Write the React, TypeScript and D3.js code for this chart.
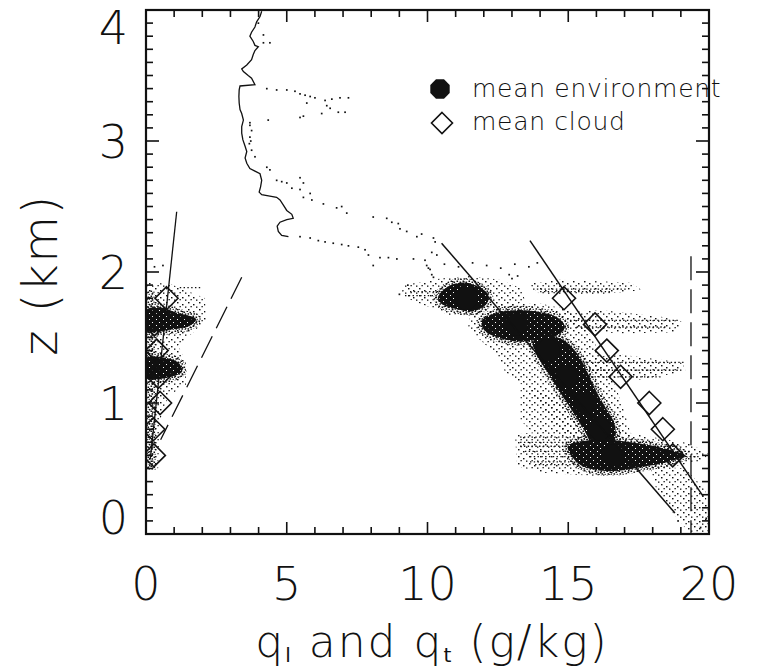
import React from "react";
import * as d3 from "d3";

// ---------- data (q in g/kg, z in km) ----------
const X_MAJOR = [0, 5, 10, 15, 20];
const Y_MAJOR = [0, 1, 2, 3, 4];

const LEVEL_Z = [1.8, 1.6, 1.4, 1.2, 1.0, 0.8, 0.6];
const ENV_Q = [11.39, 13.17, 14.28, 14.94, 15.6, 16.13, 16.59];
const CLOUD_QT = [14.85, 15.95, 16.37, 16.86, 17.88, 18.36, 18.71];
const CLOUD_QL = [0.73, 0.3, 0.38, 0.44, 0.5, 0.26, 0.28];

// fitted / reference lines
const LIQ_LINE: [number, number][] = [[1.09, 2.46], [0.15, 0.57]];
const ADIABAT_LINE: [number, number][] = [[3.4, 1.96], [0.52, 0.72]];
const ENV_LINE: [number, number][] = [[10.5, 2.22], [18.79, 0.16]];
const CLOUD_LINE: [number, number][] = [[13.64, 2.24], [19.8, 0.285]];
const SURFACE_LINE: [number, number][] = [[19.36, 2.12], [19.36, 0]];

// sounding profile
const PROFILE: [number, number][] = [
  [4.11, 3.99], [4.05, 3.95], [3.93, 3.91], [3.87, 3.87], [3.75, 3.83], [3.69, 3.8], [3.81, 3.76],
  [3.87, 3.73], [3.99, 3.72], [3.87, 3.69], [3.81, 3.66], [3.75, 3.62], [3.58, 3.58], [3.4, 3.55],
  [3.46, 3.53], [3.63, 3.5], [3.75, 3.48], [3.87, 3.43], [3.34, 3.42], [3.31, 3.39], [3.3, 3.34],
  [3.31, 3.29], [3.34, 3.24], [3.4, 3.21], [3.46, 3.16], [3.4, 3.11], [3.4, 3.06], [3.44, 3.01],
  [3.52, 2.96], [3.58, 2.92], [3.52, 2.87], [3.58, 2.83], [3.69, 2.79], [3.87, 2.77], [4.05, 2.75],
  [4.11, 2.7], [4.07, 2.65], [4.02, 2.61], [4.11, 2.59], [4.4, 2.58], [4.64, 2.57], [4.76, 2.55],
  [4.88, 2.51], [5.0, 2.47], [5.18, 2.44], [5.23, 2.41], [5.0, 2.4], [4.76, 2.38], [4.66, 2.35],
  [4.7, 2.31], [4.82, 2.28], [5.06, 2.27],
];
const PROFILE_DOTS: [number, number][] = [
  // lower trail
  [5.47, 2.27], [5.83, 2.26], [6.12, 2.24], [6.36, 2.23], [6.65, 2.22], [6.95, 2.21], [7.19, 2.2],
  [7.54, 2.19], [7.78, 2.17], [7.9, 2.13], [8.07, 2.05], [8.31, 2.11], [8.61, 2.11], [8.91, 2.1],
  [9.5, 2.1], [9.91, 2.09], [9.97, 2.05], [10.03, 2.03], [10.09, 2.02], [10.15, 1.98], [10.21, 1.96],
  // upper trail
  [4.29, 2.8], [4.4, 2.78], [4.64, 2.7], [4.82, 2.69], [5.0, 2.68], [5.18, 2.64], [5.47, 2.63],
  [5.59, 2.57], [5.89, 2.55], [6.3, 2.52], [6.77, 2.49], [6.95, 2.5], [7.13, 2.45], [8.07, 2.42],
  [8.55, 2.41], [8.73, 2.38], [8.96, 2.37], [9.02, 2.33], [9.26, 2.31], [9.62, 2.27], [9.79, 2.29],
  [10.21, 2.26], [10.27, 2.23], [10.15, 2.15], [10.33, 2.13], [5.47, 2.72], [5.59, 2.68], [5.83, 2.6],
  // branch near 3.3 km
  [4.29, 3.4], [4.64, 3.39], [5.0, 3.39], [5.29, 3.38], [5.47, 3.36], [5.65, 3.35], [5.83, 3.34],
  [6.0, 3.33], [6.36, 3.31], [6.6, 3.32], [6.89, 3.33], [7.19, 3.33], [6.42, 3.27], [6.54, 3.25],
  [6.83, 3.22], [7.07, 3.22], [5.59, 3.19], [5.47, 3.18], [6.24, 3.21], [4.34, 3.16], [5.71, 3.29],
  // second strand
  [3.69, 3.14], [3.75, 3.08], [3.69, 3.03], [3.67, 2.98], [3.75, 2.93], [3.87, 2.88], [3.99, 3.9],
  [4.17, 3.81], [4.17, 3.75], [4.4, 3.75], [3.69, 3.12], [3.72, 3.0],
  // sparse dots near 2 km
  [10.6, 2.06], [11.1, 2.04], [11.6, 2.07], [12.1, 2.05], [12.6, 2.03], [13.1, 2.06], [13.6, 2.04],
  [13.9, 2.07], [12.9, 1.98], [13.0, 1.95], [13.2, 1.97], [9.3, 1.9], [9.0, 1.83], [0.3, 2.04],
  [0.6, 2.05], [0.0, 2.02], [18.9, 0.1], [19.7, 0.05], [19.9, 0.12], [19.5, 0.2],
];

// dense cores
const DENSE_1: [number, number][] = [
  [10.37, 1.8], [10.66, 1.88], [11.23, 1.92], [11.79, 1.89], [12.15, 1.83], [12.11, 1.76],
  [11.62, 1.7], [10.98, 1.72], [10.55, 1.75],
];
const DENSE_2: [number, number][] = [
  [11.94, 1.63], [12.5, 1.69], [13.29, 1.71], [14.07, 1.69], [14.63, 1.65], [14.88, 1.58],
  [14.56, 1.51], [13.93, 1.48], [13.21, 1.47], [12.5, 1.5], [12.0, 1.56],
];
const DENSE_3: [number, number][] = [
  [13.75, 1.47], [14.63, 1.5], [15.28, 1.39], [15.67, 1.24], [16.02, 1.08], [16.34, 0.96],
  [16.63, 0.85], [16.66, 0.73], [16.34, 0.67], [15.84, 0.69], [15.6, 0.78], [15.2, 0.92],
  [14.71, 1.08], [14.28, 1.23], [13.93, 1.35],
];
const DENSE_4: [number, number][] = [
  [14.99, 0.67], [16.13, 0.72], [17.19, 0.7], [18.26, 0.66], [19.11, 0.6], [18.54, 0.55],
  [17.55, 0.51], [16.66, 0.48], [15.95, 0.49], [15.35, 0.54],
];
const DENSE_5: [number, number][] = [
  [0, 1.71], [0.5, 1.73], [1.07, 1.69], [1.78, 1.64], [1.56, 1.59], [0.85, 1.56], [0, 1.55],
];
const DENSE_6: [number, number][] = [
  [0, 1.34], [0.57, 1.35], [1.14, 1.31], [1.28, 1.24], [0.71, 1.19], [0, 1.19],
];
const STRIP_LEFT: [number, number][] = [[0, 1.86], [0.3, 1.86], [0.35, 0.49], [0, 0.49]];

// sparse halos
const HALO_1: [number, number][] = [
  [9.2, 1.9], [10.44, 1.95], [11.51, 1.97], [12.58, 1.94], [13.29, 1.88], [13.46, 1.79],
  [12.75, 1.69], [11.87, 1.66], [10.8, 1.67], [9.73, 1.76], [9.02, 1.82],
];
const HALO_2: [number, number][] = [
  [11.51, 1.67], [12.4, 1.75], [14.0, 1.76], [15.06, 1.71], [15.49, 1.62], [15.84, 1.5],
  [16.23, 1.33], [16.73, 1.1], [17.09, 0.87], [17.26, 0.72], [16.55, 0.66], [15.24, 0.7],
  [14.42, 0.85], [14.0, 1.01], [13.36, 1.14], [12.75, 1.24], [12.47, 1.37], [11.87, 1.48], [11.44, 1.57],
];
const HALO_3: [number, number][] = [
  [14.71, 1.69], [16.13, 1.71], [18.26, 1.66], [19.04, 1.62], [18.83, 1.54], [16.84, 1.53], [15.24, 1.56],
];
const HALO_4: [number, number][] = [
  [15.24, 1.34], [16.84, 1.37], [19.04, 1.31], [19.18, 1.24], [17.55, 1.18], [15.77, 1.2],
];
const HALO_5: [number, number][] = [
  [13.57, 1.91], [14.71, 1.94], [17.19, 1.92], [17.62, 1.86], [16.13, 1.83], [14.0, 1.83],
];
const HALO_6: [number, number][] = [
  [13.11, 0.76], [14.71, 0.8], [16.84, 0.78], [19.33, 0.69], [20, 0.61], [19.68, 0.55],
  [17.9, 0.49], [16.13, 0.44], [14.0, 0.47], [13.18, 0.52],
];
const HALO_7: [number, number][] = [
  [17.9, 0.52], [19.15, 0.5], [19.86, 0.34], [20, 0.11], [20, 0], [19.33, 0], [18.69, 0.17], [18.12, 0.35],
];
const HALO_8: [number, number][] = [
  [13.3, 1.14], [14.4, 1.06], [15.6, 0.87], [15.3, 0.78], [13.7, 0.78], [13.3, 0.87],
];
const HALO_9: [number, number][] = [
  [0, 1.92], [0.85, 1.91], [2.1, 1.8], [2.13, 1.63], [1.63, 1.53], [1.14, 1.44], [1.42, 1.31],
  [1.42, 1.14], [0.78, 1.05], [0.5, 0.87], [0.43, 0.49], [0, 0.49],
];

// horizontal streaks of points (flight legs)
const STREAK_Z = [0.74, 0.7, 0.67, 0.63, 0.59, 0.55, 0.53, 1.63, 1.58, 1.87, 1.85, 1.31, 1.25, 1.2, 1.85, 1.82, 1.61, 1.24, 1.88];
const STREAK_Q0 = [13.29, 13.29, 13.29, 13.46, 13.64, 13.64, 13.82, 15.06, 15.3, 13.75, 14.0, 15.4, 15.6, 15.8, 9.38, 9.2, 0, 0, 1.2];
const STREAK_Q1 = [16.23, 17.9, 18.97, 19.33, 19.68, 18.61, 17.55, 18.97, 18.5, 17.09, 16.5, 19.1, 18.9, 18.3, 10.7, 10.5, 1.92, 1.31, 2.0];

export default function App() {
  const W = 759;
  const H = 670;
  const x = d3.scaleLinear().domain([0, 20]).range([146, 709]);
  const y = d3.scaleLinear().domain([0, 4]).range([534, 10]);
  const line = d3.line<[number, number]>().x((d) => x(d[0])).y((d) => y(d[1]));
  const blob = d3
    .line<[number, number]>()
    .x((d) => x(d[0]))
    .y((d) => y(d[1]))
    .curve(d3.curveCatmullRomClosed.alpha(0.5));
  const poly = d3
    .line<[number, number]>()
    .x((d) => x(d[0]))
    .y((d) => y(d[1]))
    .curve(d3.curveLinearClosed);

  const font = "'DejaVu Sans', sans-serif";
  const xMinor = d3.range(0, 21, 1);
  const yMinor = d3.range(0, 41, 1).map((v) => v / 10);

  const octagon = (cx: number, cy: number, r: number) =>
    d3.range(8).map((i) => {
      const a = (Math.PI / 8) + (i * Math.PI) / 4;
      return `${cx + r * Math.cos(a)},${cy + r * Math.sin(a)}`;
    }).join(" ");
  const diamond = (cx: number, cy: number, r: number) =>
    `M${cx},${cy - r}L${cx + r},${cy}L${cx},${cy + r}L${cx - r},${cy}Z`;

  const dense = [DENSE_1, DENSE_2, DENSE_3, DENSE_4, DENSE_5, DENSE_6];
  const halos = [HALO_1, HALO_2, HALO_3, HALO_4, HALO_5, HALO_6, HALO_7, HALO_8, HALO_9];

  return (
    <div style={{ position: "absolute", left: 0, top: 0 }}>
      <svg width={W} height={H} style={{ display: "block", background: "#fff" }}>
        <defs>
          <pattern id="halo" width="11" height="7" patternUnits="userSpaceOnUse">
            <rect x="1" y="1" width="1.5" height="1.4" fill="#111" />
            <rect x="6" y="3" width="1.5" height="1.4" fill="#111" />
            <rect x="9" y="5.5" width="1.4" height="1.3" fill="#111" />
            <rect x="3.5" y="5" width="1.3" height="1.3" fill="#111" />
          </pattern>
          <pattern id="mid" width="6" height="5" patternUnits="userSpaceOnUse">
            <rect x="0.5" y="0.5" width="1.6" height="1.5" fill="#111" />
            <rect x="3.5" y="1.5" width="1.6" height="1.5" fill="#111" />
            <rect x="1.5" y="3.2" width="1.6" height="1.5" fill="#111" />
            <rect x="4.6" y="3.8" width="1.2" height="1.1" fill="#111" />
          </pattern>
          <pattern id="core" width="7" height="6" patternUnits="userSpaceOnUse">
            <rect x="0" y="0" width="7" height="6" fill="#111" />
            <rect x="2" y="1" width="1" height="1" fill="#fff" />
            <rect x="5" y="4" width="1" height="1" fill="#fff" />
          </pattern>
          <clipPath id="plotclip">
            <rect x={x(0)} y={y(4)} width={x(20) - x(0)} height={y(0) - y(4)} />
          </clipPath>
        </defs>

        <g clipPath="url(#plotclip)">
          {halos.map((h, i) => (
            <path key={"h" + i} d={poly(h) || ""} fill="url(#halo)" stroke="none" />
          ))}
          {STREAK_Z.map((z, i) => (
            <line
              key={"s" + i}
              x1={x(STREAK_Q0[i])}
              x2={x(STREAK_Q1[i])}
              y1={y(z)}
              y2={y(z)}
              stroke="#111"
              strokeWidth={1.3}
              strokeDasharray="1.4 2.4"
            />
          ))}
          <path d={poly(STRIP_LEFT) || ""} fill="url(#mid)" />
          {dense.map((p, i) => (
            <path key={"d" + i} d={blob(p) || ""} fill="url(#core)" stroke="url(#mid)" strokeWidth={9} strokeLinejoin="round" />
          ))}
          <path d={line(PROFILE) || ""} fill="none" stroke="#111" strokeWidth={1.3} />
          {PROFILE_DOTS.map((d, i) => (
            <rect key={"p" + i} x={x(d[0]) - 0.8} y={y(d[1]) - 0.8} width={1.7} height={1.7} fill="#111" />
          ))}

          {/* mean environment markers */}
          {LEVEL_Z.map((z, i) => (
            <polygon key={"e" + i} points={octagon(x(ENV_Q[i]), y(z), 12)} fill="#111" />
          ))}

          {/* lines */}
          <path d={line(LIQ_LINE) || ""} stroke="#111" strokeWidth={1.3} fill="none" />
          <path d={line(ADIABAT_LINE) || ""} stroke="#111" strokeWidth={1.3} fill="none" strokeDasharray="24 9" />
          <path d={line(ENV_LINE) || ""} stroke="#111" strokeWidth={1.5} fill="none" />
          <path d={line(CLOUD_LINE) || ""} stroke="#111" strokeWidth={1.5} fill="none" />
          <path d={line(SURFACE_LINE) || ""} stroke="#111" strokeWidth={1.3} fill="none" strokeDasharray="24 9" />

          {/* mean cloud markers */}
          {LEVEL_Z.map((z, i) => (
            <path key={"c" + i} d={diamond(x(CLOUD_QT[i]), y(z), 11.5)} fill="none" stroke="#111" strokeWidth={1.6} />
          ))}
          {LEVEL_Z.map((z, i) => (
            <path key={"l" + i} d={diamond(x(CLOUD_QL[i]), y(z), 11.5)} fill="none" stroke="#111" strokeWidth={1.6} />
          ))}
        </g>

        {/* frame */}
        <rect x={x(0)} y={y(4)} width={x(20) - x(0)} height={y(0) - y(4)} fill="none" stroke="#111" strokeWidth={2.2} />
        {xMinor.map((v) => {
          const L = v % 5 === 0 ? 12 : 7;
          return (
            <g key={"xt" + v}>
              <line x1={x(v)} x2={x(v)} y1={y(0)} y2={y(0) - L} stroke="#111" strokeWidth={1.6} />
              <line x1={x(v)} x2={x(v)} y1={y(4)} y2={y(4) + L} stroke="#111" strokeWidth={1.6} />
            </g>
          );
        })}
        {yMinor.map((v, i) => {
          const L = i % 10 === 0 ? 13 : 7;
          return (
            <g key={"yt" + i}>
              <line x1={x(0)} x2={x(0) + L} y1={y(v)} y2={y(v)} stroke="#111" strokeWidth={1.6} />
              <line x1={x(20)} x2={x(20) - L} y1={y(v)} y2={y(v)} stroke="#111" strokeWidth={1.6} />
            </g>
          );
        })}

        {/* tick labels */}
        {X_MAJOR.map((v) => (
          <text key={"xl" + v} x={x(v)} y={600} textAnchor="middle" fontFamily={font} fontWeight={200} fontSize={46} fill="#111">
            {v}
          </text>
        ))}
        {Y_MAJOR.map((v) => {
          const shift = v === 4 ? 17 : v === 0 ? -17 : 0;
          return (
            <text key={"yl" + v} x={128} y={y(v) + shift + 17} textAnchor="end" fontFamily={font} fontWeight={200} fontSize={46} fill="#111">
              {v}
            </text>
          );
        })}

        {/* axis titles */}
        <text
          transform={`translate(57,275) rotate(-90)`}
          textAnchor="middle"
          fontFamily={font}
          fontWeight={200}
          fontSize={48}
          letterSpacing={1.5}
          fill="#111"
        >
          z (km)
        </text>
        <text x={432} y={657} textAnchor="middle" fontFamily={font} fontWeight={200} fontSize={44} letterSpacing={2} fill="#111">
          q<tspan fontSize={20} fontWeight={400} dy={5}>l</tspan>
          <tspan dy={-5}> and q</tspan>
          <tspan fontSize={20} fontWeight={400} dy={5}>t</tspan>
          <tspan dy={-5}> (g/kg)</tspan>
        </text>

        {/* legend */}
        <polygon points={octagon(440, 89, 10.5)} fill="#111" />
        <text x={472} y={97} fontFamily={font} fontWeight={200} fontSize={25} letterSpacing={0.7} fill="#111">
          mean environment
        </text>
        <path d={diamond(442, 123, 10.5)} fill="none" stroke="#111" strokeWidth={1.6} />
        <text x={472} y={130} fontFamily={font} fontWeight={200} fontSize={25} letterSpacing={0.7} fill="#111">
          mean cloud
        </text>
      </svg>
    </div>
  );
}
